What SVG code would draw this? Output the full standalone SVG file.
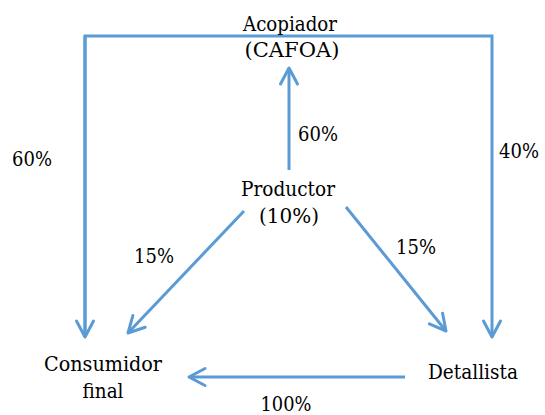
<svg xmlns="http://www.w3.org/2000/svg" width="545" height="415" viewBox="0 0 545 415">
<style>
  .t { font-family: 'DejaVu Serif', 'Liberation Serif', serif; font-size: 21px; fill: #000; text-anchor: middle; }
  .c { fill: none; stroke: #5b9bd5; stroke-width: 3; }
</style>
<defs>
  <marker id="ah" markerUnits="userSpaceOnUse" viewBox="-20 -12 24 24" refX="0" refY="0" markerWidth="24" markerHeight="24" orient="auto">
    <path d="M-16,-8.5 L0,0 L-16,8.5" fill="none" stroke="#5b9bd5" stroke-width="3" stroke-linecap="round" stroke-linejoin="round"/>
  </marker>
</defs>
<rect width="545" height="415" fill="#ffffff"/>
<g id="connectors">
  <path class="c" d="M85,337 L85,36 L492,36 L492,337" marker-end="url(#ah)"/>
  <path class="c" d="M85,36 L85,337" marker-end="url(#ah)"/>
  <path class="c" d="M289,170 L289,68" marker-end="url(#ah)"/>
  <path class="c" d="M244,211 L128,333" marker-end="url(#ah)"/>
  <path class="c" d="M346,207 L446,331" marker-end="url(#ah)"/>
  <path class="c" d="M405,377 L189,377" marker-end="url(#ah)"/>
</g>
<g id="node-acopiador">
  <text class="t" x="290" y="31" textLength="94" lengthAdjust="spacingAndGlyphs">Acopiador</text>
  <text class="t" x="292" y="57" textLength="95" lengthAdjust="spacingAndGlyphs">(CAFOA)</text>
</g>
<g id="node-productor">
  <text class="t" x="288" y="196" textLength="94" lengthAdjust="spacingAndGlyphs">Productor</text>
  <text class="t" x="289" y="223" textLength="60" lengthAdjust="spacingAndGlyphs">(10%)</text>
</g>
<g id="node-consumidor">
  <text class="t" x="103" y="371" textLength="118" lengthAdjust="spacingAndGlyphs">Consumidor</text>
  <text class="t" x="103" y="398" textLength="41" lengthAdjust="spacingAndGlyphs">final</text>
</g>
<g id="node-detallista">
  <text class="t" x="473" y="379" textLength="90" lengthAdjust="spacingAndGlyphs">Detallista</text>
</g>
<g id="labels">
  <text class="t" x="318" y="141" textLength="40" lengthAdjust="spacingAndGlyphs">60%</text>
  <text class="t" x="32" y="166" textLength="40" lengthAdjust="spacingAndGlyphs">60%</text>
  <text class="t" x="519" y="158" style="font-size:19.5px" textLength="40" lengthAdjust="spacingAndGlyphs">40%</text>
  <text class="t" x="154" y="263" textLength="40" lengthAdjust="spacingAndGlyphs">15%</text>
  <text class="t" x="416" y="254" textLength="40" lengthAdjust="spacingAndGlyphs">15%</text>
  <text class="t" x="286" y="411" textLength="51" lengthAdjust="spacingAndGlyphs">100%</text>
</g>
</svg>
